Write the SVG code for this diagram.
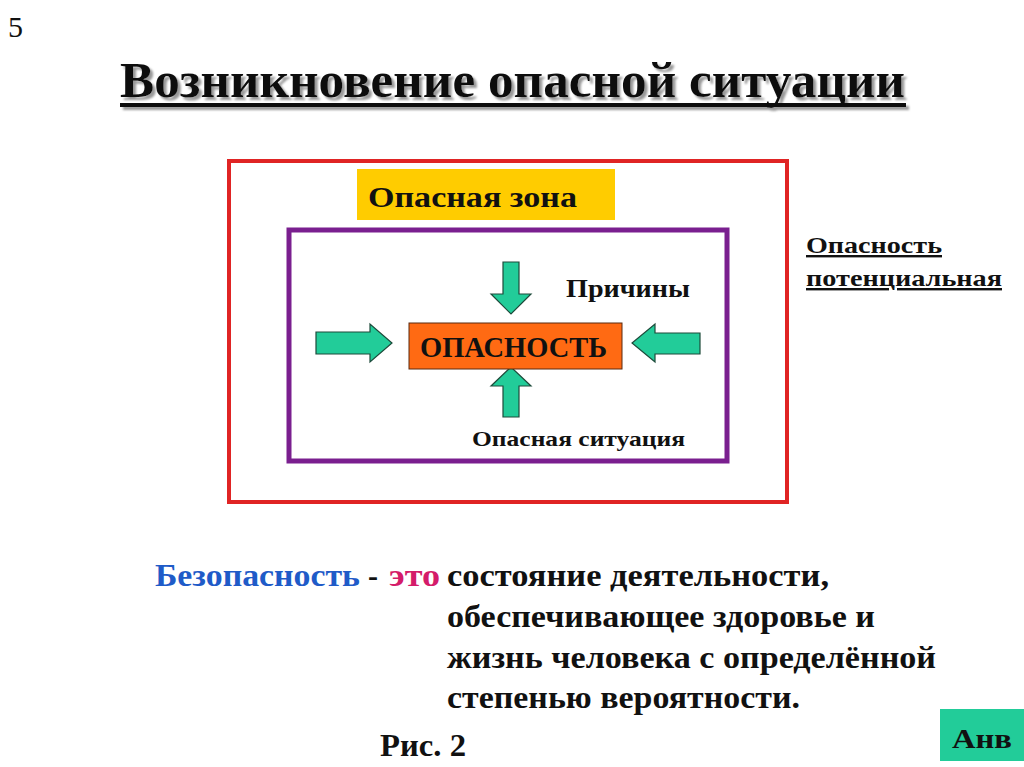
<svg xmlns="http://www.w3.org/2000/svg" width="1024" height="767" viewBox="0 0 1024 767">
<defs>
<filter id="sh" x="-5%" y="-20%" width="110%" height="150%">
<feDropShadow dx="3" dy="3" stdDeviation="0.8" flood-color="#999" flood-opacity="1"/>
</filter>
</defs>
<style>
.t{font-family:"Liberation Serif","Times New Roman",serif;font-weight:bold;fill:#111}
.arr{fill:#22cc99;stroke:#1d4a3a;stroke-width:1.2;stroke-linejoin:miter}
</style>
<rect width="1024" height="767" fill="#ffffff"/>
<text x="8" y="37" font-family="Liberation Serif, serif" font-size="30" fill="#111">5</text>
<g id="title" filter="url(#sh)">
<text class="t" x="120" y="97" font-size="50" textLength="785" lengthAdjust="spacingAndGlyphs">Возникновение опасной ситуации</text>
<rect x="120" y="103" width="786" height="4" fill="#111"/>
</g>
<g id="outer-zone">
<rect x="229" y="161" width="558" height="341" fill="none" stroke="#e02424" stroke-width="4"/>
</g>
<g id="danger-zone-label">
<rect x="357" y="169" width="258" height="51" fill="#ffcc00"/>
<text class="t" x="368" y="207" font-size="29" textLength="209" lengthAdjust="spacingAndGlyphs">Опасная зона</text>
</g>
<g id="inner-zone">
<rect x="289" y="230" width="438" height="231" fill="none" stroke="#7a1f8f" stroke-width="5"/>
</g>
<g id="connectors">
<polygon class="arr" points="503,262 519,262 519,294 531,294 511,314 491,294 503,294"/>
<polygon class="arr" points="316,332 370,332 370,324 392,343 370,362 370,354 316,354"/>
<polygon class="arr" points="700,333 655,333 655,324 632,343 655,362 655,354 700,354"/>
<polygon class="arr" points="503,417 519,417 519,386 531,386 511,367 491,386 503,386"/>
</g>
<g id="danger">
<rect x="409" y="323" width="213" height="46" fill="#ff6a13" stroke="#5a2a10" stroke-width="1"/>
<text class="t" x="420" y="357" font-size="29" textLength="187" lengthAdjust="spacingAndGlyphs">ОПАСНОСТЬ</text>
</g>
<g id="causes">
<text class="t" x="566" y="297" font-size="26" textLength="124" lengthAdjust="spacingAndGlyphs">Причины</text>
</g>
<g id="situation">
<text class="t" x="472" y="446" font-size="22" textLength="213" lengthAdjust="spacingAndGlyphs">Опасная ситуация</text>
</g>
<g id="potential">
<text class="t" x="806" y="253" font-size="24" text-decoration="underline" textLength="136" lengthAdjust="spacingAndGlyphs">Опасность</text>
<text class="t" x="806" y="286" font-size="24" text-decoration="underline" textLength="196" lengthAdjust="spacingAndGlyphs">потенциальная</text>
</g>
<g id="definition">
<text class="t" x="155" y="586" font-size="31" style="fill:#1f5bc8" textLength="205" lengthAdjust="spacingAndGlyphs">Безопасность</text>
<text class="t" x="368" y="586" font-size="31" textLength="10" lengthAdjust="spacingAndGlyphs">-</text>
<text class="t" x="389" y="586" font-size="31" style="fill:#d41c6a" textLength="51" lengthAdjust="spacingAndGlyphs">это</text>
<text class="t" x="447" y="586" font-size="31" textLength="382" lengthAdjust="spacingAndGlyphs">состояние деятельности,</text>
<text class="t" x="447" y="627" font-size="31" textLength="428" lengthAdjust="spacingAndGlyphs">обеспечивающее здоровье и</text>
<text class="t" x="447" y="668" font-size="31" textLength="489" lengthAdjust="spacingAndGlyphs">жизнь человека с определённой</text>
<text class="t" x="447" y="708" font-size="31" textLength="353" lengthAdjust="spacingAndGlyphs">степенью вероятности.</text>
</g>
<g id="caption">
<text class="t" x="380" y="756" font-size="31" textLength="86" lengthAdjust="spacingAndGlyphs">Рис. 2</text>
</g>
<g id="button">
<rect x="940" y="709" width="84" height="52" fill="#22cc99"/>
<text class="t" x="952" y="748" font-size="28" textLength="60" lengthAdjust="spacingAndGlyphs">Анв</text>
</g>
</svg>
